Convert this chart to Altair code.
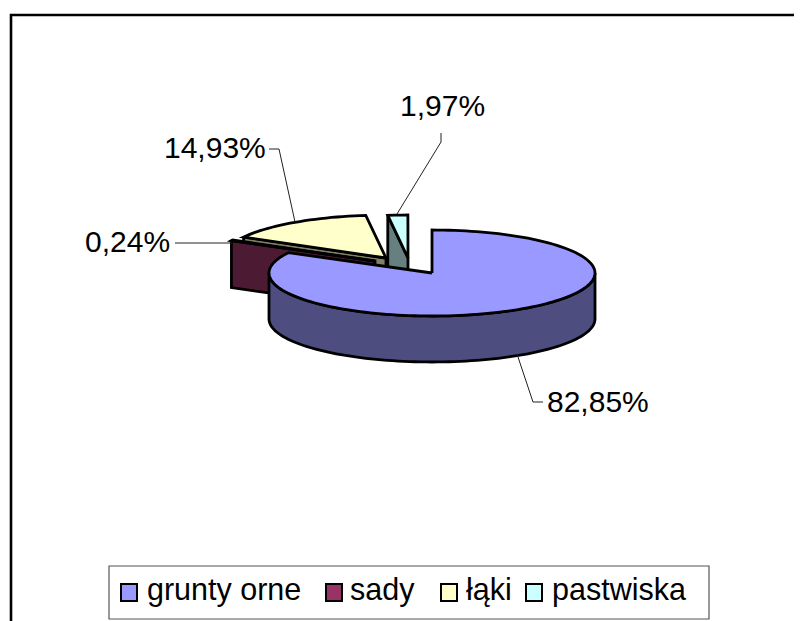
import math
import altair as alt
import pandas as pd

# data
categories = ["grunty orne", "sady", "łąki", "pastwiska"]
shares = [82.85, 0.24, 14.93, 1.97]
labels = ["82,85%", "0,24%", "14,93%", "1,97%"]
top_colors = ["#9999FF", "#993366", "#FFFFCC", "#CCFFFF"]
wall_colors = ["#4D4D80", "#4D1A33", "#808066", "#668080"]

# layout of the tilted pie (page pixels)
apex_x = [432, 375, 386, 408]
apex_y = [273, 261, 258, 258]
wall_depth = [46, 47, 47, 54]
RX, RY = 163, 43
label_x = [547, 85, 164, 400]
label_y = [412, 252, 158, 116]
leaders = [
    [(517, 354), (533, 402), (543, 402)],
    [(175, 243), (232, 243)],
    [(269, 149), (279, 149), (295, 222)],
    [(441, 133), (441, 142), (397, 214)],
]
legend_box = (109, 709, 566, 619)
legend_symbol_x = [121, 326, 441, 526]
legend_text_x = [147, 350, 466, 552]
legend_symbol_y = (584, 601)
legend_text_y = 600
frame = [(11, 621), (11, 15), (794, 15)]
FONT = "Liberation Sans"
LABEL_SIZE = 30
LEGEND_SIZE = 30.5

X = alt.X("x:Q", axis=None, scale=alt.Scale(domain=[8, 794], nice=False, zero=False, padding=0))
Y = alt.Y("y:Q", axis=None, scale=alt.Scale(domain=[621, 8], nice=False, zero=False, padding=0))


def rim(i, a):
    r = math.radians(a)
    return (apex_x[i] + RX * math.sin(r), apex_y[i] - RY * math.cos(r))


def arc(i, a0, a1):
    steps = max(2, int(abs(a1 - a0) / 2))
    return [rim(i, a0 + (a1 - a0) * k / steps) for k in range(steps + 1)]


def poly(points, fill, width=2.8):
    pts = list(points) + [points[0]]
    df = pd.DataFrame({"x": [p[0] for p in pts], "y": [p[1] for p in pts], "i": range(len(pts))})
    return alt.Chart(df).mark_line(fill=fill, stroke="black", strokeWidth=width,
                                   strokeJoin="miter", clip=False).encode(
        x=X, y=Y, order=alt.Order("i:Q"))


def path(points, width=1.0, color="#222222"):
    df = pd.DataFrame({"x": [p[0] for p in points], "y": [p[1] for p in points],
                       "i": range(len(points))})
    return alt.Chart(df).mark_line(stroke=color, strokeWidth=width).encode(
        x=X, y=Y, order=alt.Order("i:Q"))


bounds = [0.0]
for s in shares:
    bounds.append(bounds[-1] + s * 3.6)

layers = [path(frame, 2.6, "#000000")]

# back slices first, the big slice last
for i in [3, 2, 1, 0]:
    a0, a1 = bounds[i], bounds[i + 1]
    d = wall_depth[i]
    if i == 0:
        top = arc(0, 90, 270)
        low = [(x, y + d) for x, y in reversed(top)]
        layers.append(poly(top + low, wall_colors[0]))
    else:
        ox, oy = rim(i, a0)
        ax, ay = apex_x[i], apex_y[i]
        layers.append(poly([(ox, oy), (ax, ay), (ax, ay + d), (ox, oy + d)], wall_colors[i]))
    layers.append(poly([(apex_x[i], apex_y[i])] + arc(i, a0, a1), top_colors[i]))

for pts in leaders:
    layers.append(path(pts))

labels_df = pd.DataFrame({"x": label_x, "y": label_y, "t": labels})
layers.append(alt.Chart(labels_df).mark_text(
    font=FONT, fontSize=LABEL_SIZE, align="left", baseline="alphabetic", color="black"
).encode(x=X, y=Y, text="t:N"))

# legend
bx0, bx1, by0, by1 = legend_box
box_df = pd.DataFrame({"x": [bx0], "x2": [bx1], "y": [by0], "y2": [by1]})
layers.append(alt.Chart(box_df).mark_rect(fill="white", stroke="#555555", strokeWidth=1.2).encode(
    x=X, x2="x2:Q", y=Y, y2="y2:Q"))
sym_df = pd.DataFrame({
    "x": legend_symbol_x,
    "x2": [v + 16 for v in legend_symbol_x],
    "y": [legend_symbol_y[0]] * 4,
    "y2": [legend_symbol_y[1]] * 4,
    "c": categories,
})
layers.append(alt.Chart(sym_df).mark_rect(stroke="black", strokeWidth=2).encode(
    x=X, x2="x2:Q", y=Y, y2="y2:Q",
    fill=alt.Fill("c:N", legend=None,
                  scale=alt.Scale(domain=categories, range=top_colors))))
leg_df = pd.DataFrame({"x": legend_text_x, "y": [legend_text_y] * 4, "t": categories})
layers.append(alt.Chart(leg_df).mark_text(
    font=FONT, fontSize=LEGEND_SIZE, align="left", baseline="alphabetic", color="black"
).encode(x=X, y=Y, text="t:N"))

chart = alt.layer(*layers).properties(
    width=786, height=613, padding=0, autosize=alt.AutoSizeParams(type="none", contains="content")
).configure_view(stroke=None).resolve_scale(fill="independent")

chart.save("out.html", embed_options={"renderer": "svg", "actions": False})
